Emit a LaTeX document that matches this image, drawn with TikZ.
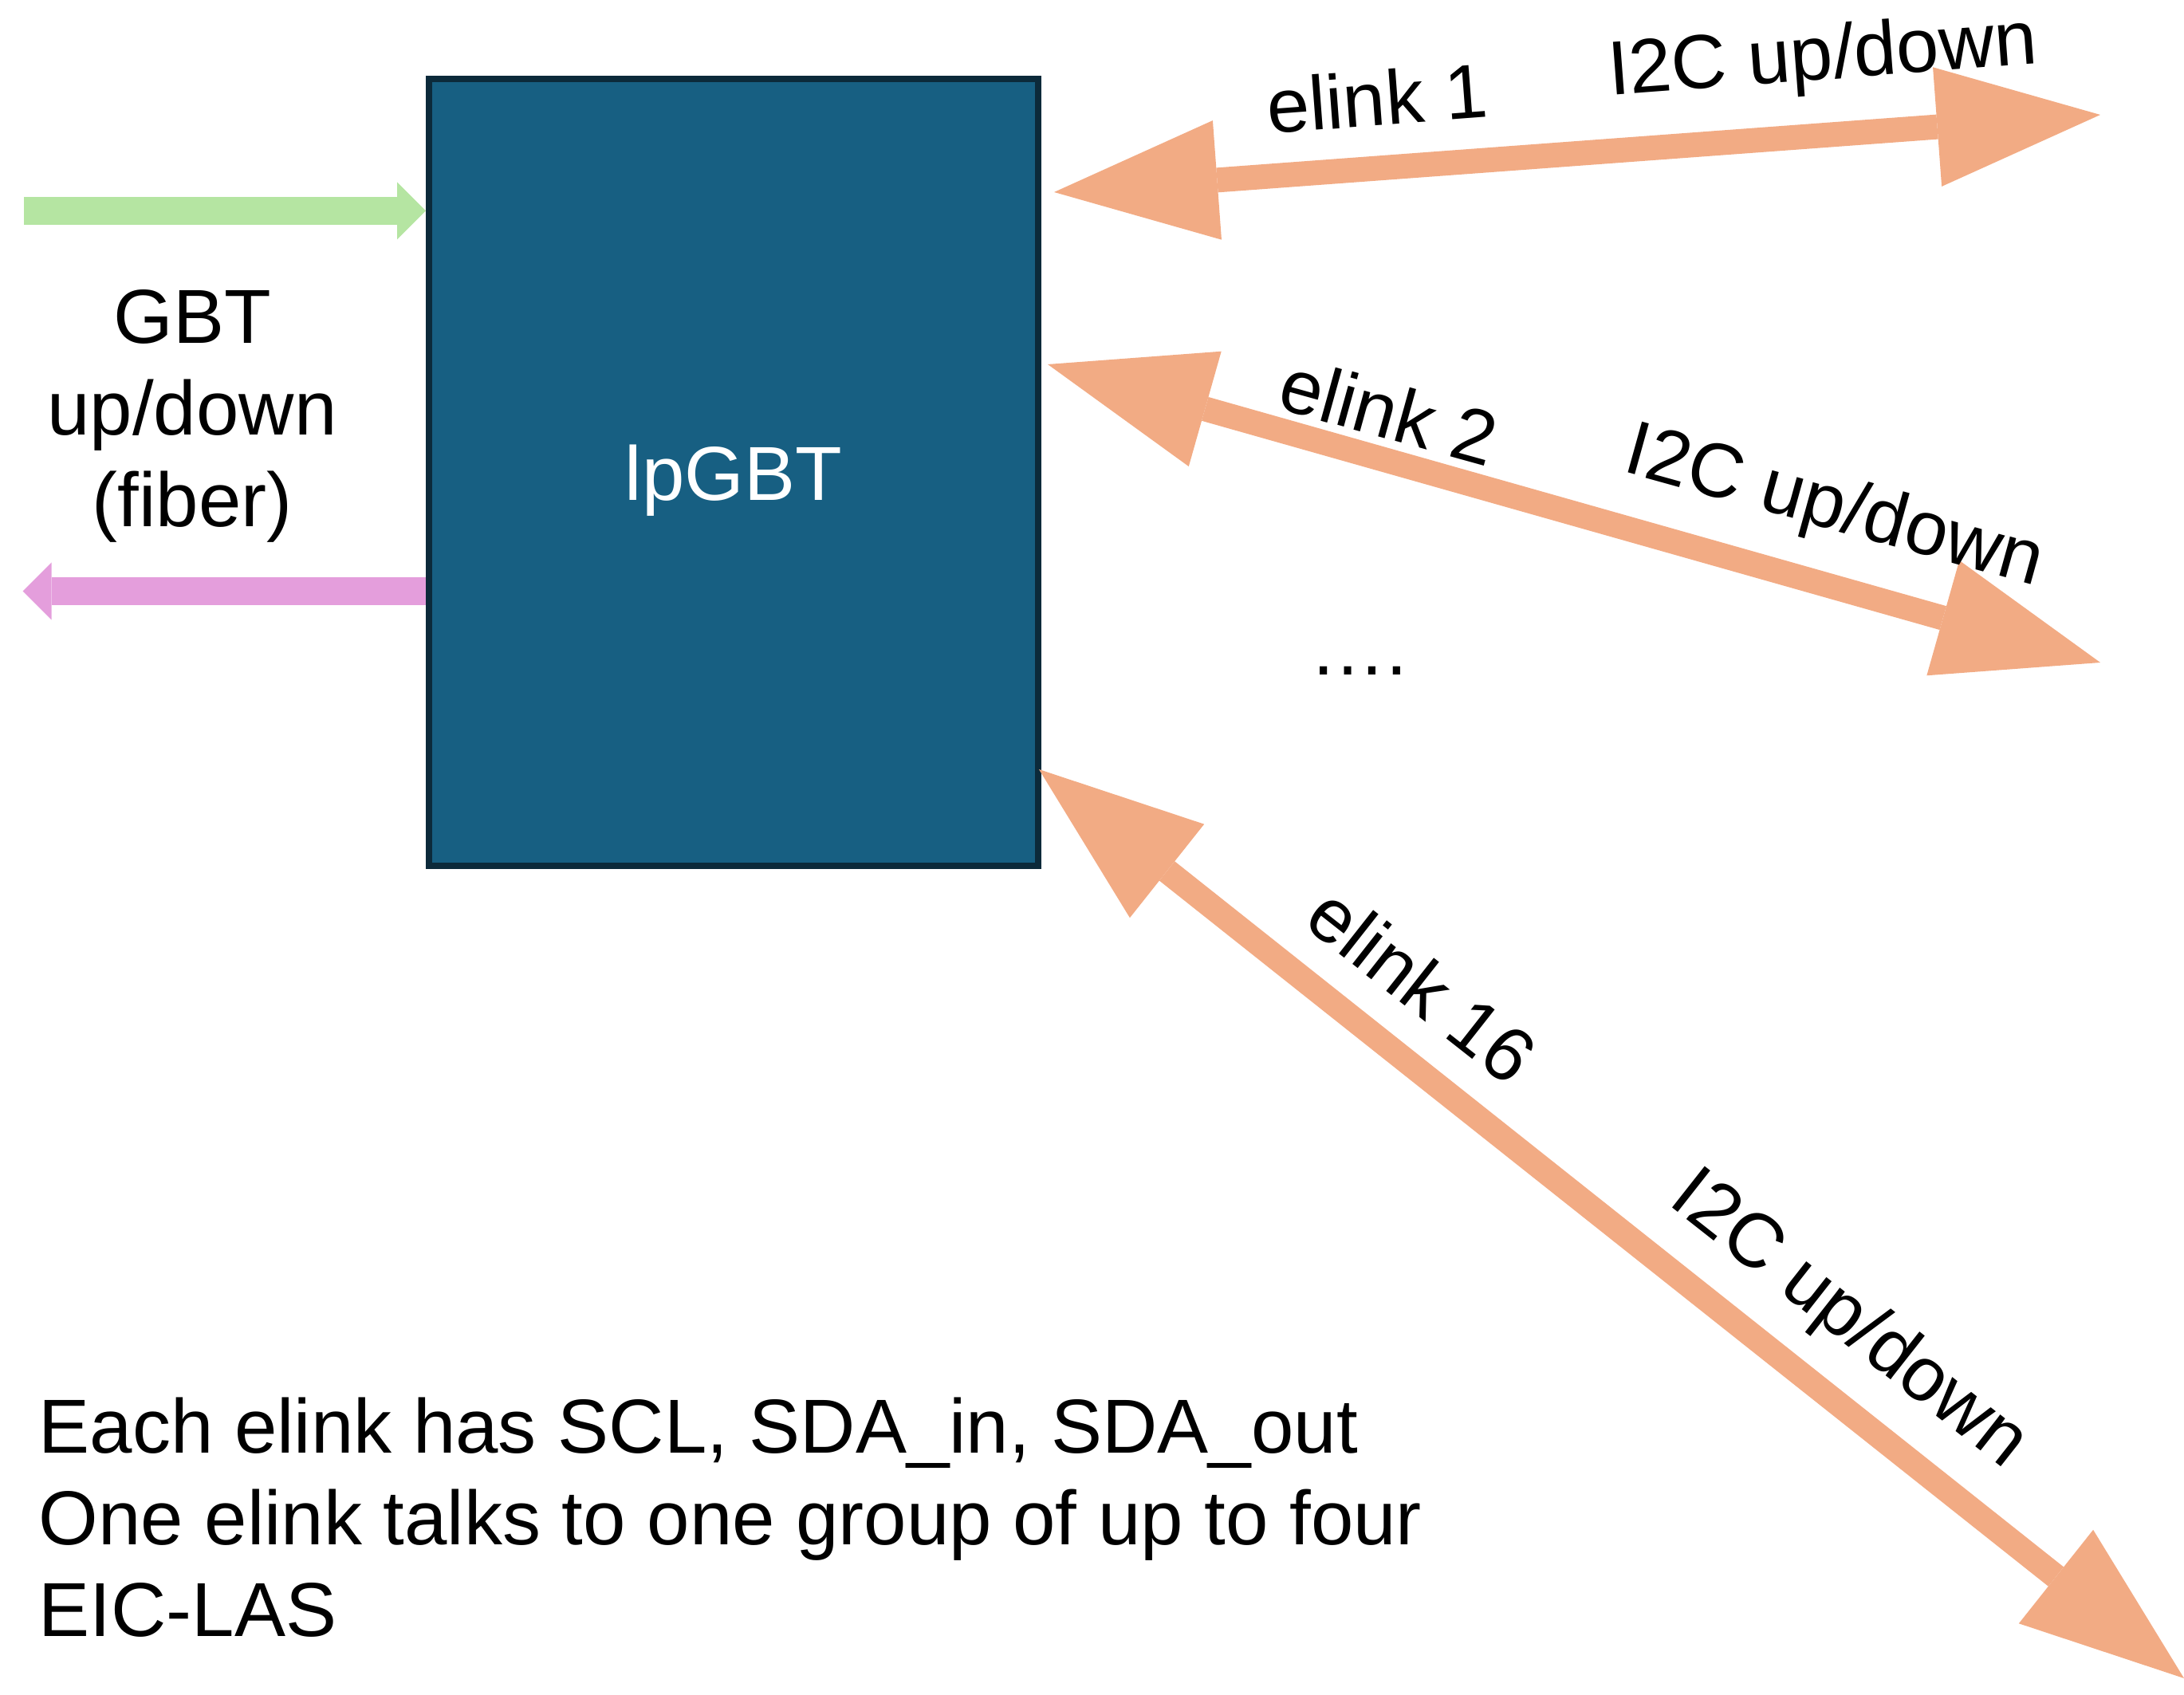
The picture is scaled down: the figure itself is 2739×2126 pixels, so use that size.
\documentclass[tikz,border=0pt]{standalone}
\usepackage{fontspec}
\setmainfont{Liberation Sans}
\usetikzlibrary{arrows.meta}
\definecolor{boxfill}{HTML}{175F82}
\definecolor{boxline}{HTML}{0C2A3A}
\definecolor{linkorange}{HTML}{F2AB84}
\definecolor{gbtgreen}{HTML}{B5E5A2}
\definecolor{gbtpink}{HTML}{E49EDC}
\begin{document}
\begin{tikzpicture}[x=0.25pt,y=-0.25pt,
  every node/.style={font=\fontsize{24}{28.8}\selectfont, inner sep=0pt},
  chip/.style={draw=boxline, fill=boxfill, line width=2pt, minimum width=191pt, minimum height=246.75pt, text=white, text depth=0pt},
  elinkarrow/.style={draw=linkorange, line width=7.75pt,
    {Triangle[length=51.25pt,width=37.5pt,line width=0pt]}-{Triangle[length=51.25pt,width=37.5pt,line width=0pt]}},
  fiberarrow/.style={line width=8.75pt, -{Triangle[length=9pt,width=18pt,line width=0pt]}}]
\useasboundingbox (0,0) rectangle (2739,2126);

\node[chip] (lp) at (920,592.5) {lpGBT};

% GBT fiber arrows
\coordinate (gA) at (30,264.5);
\coordinate (pB) at (28.6,741.5);
\draw[fiberarrow, draw=gbtgreen] (gA) -- (gA -| lp.west);
\draw[fiberarrow, draw=gbtpink] (pB -| lp.west) -- (pB);
\node[align=center] (gbt) at (241,522) {GBT\\up/down\\(fiber)};

% elink arrows
\coordinate (e1a) at (1322,241);
\coordinate (e1b) at (2634,144);
\coordinate (e2a) at (1314,457);
\coordinate (e2b) at (2634,831);
\coordinate (e16a) at (1303,965);
\coordinate (e16b) at (2739,2105);
\draw[elinkarrow] (e1a) -- (e1b);
\draw[elinkarrow] (e2a) -- (e2b);
\draw[elinkarrow] (e16a) -- (e16b);

\node[rotate=4.3] (l1a) at (1727,123) {elink 1};
\node[rotate=4.3] (l1b) at (2286,75) {I2C up/down};
\node[rotate=-15.5] (l2a) at (1742,516) {elink 2};
\node[rotate=-15.5] (l2b) at (2300,639) {I2C up/down};
\node[rotate=-38.2] (l16a) at (1784,1235) {elink 16};
\node[rotate=-38.2] (l16b) at (2318,1657) {I2C up/down};

\node[anchor=base] (dots) at (1704,847) {….};

\node[align=left, anchor=north west] (note) at (48,1752)
  {Each elink has SCL, SDA\_in, SDA\_out\\One elink talks to one group of up to four\\EIC-LAS};
\end{tikzpicture}
\end{document}
